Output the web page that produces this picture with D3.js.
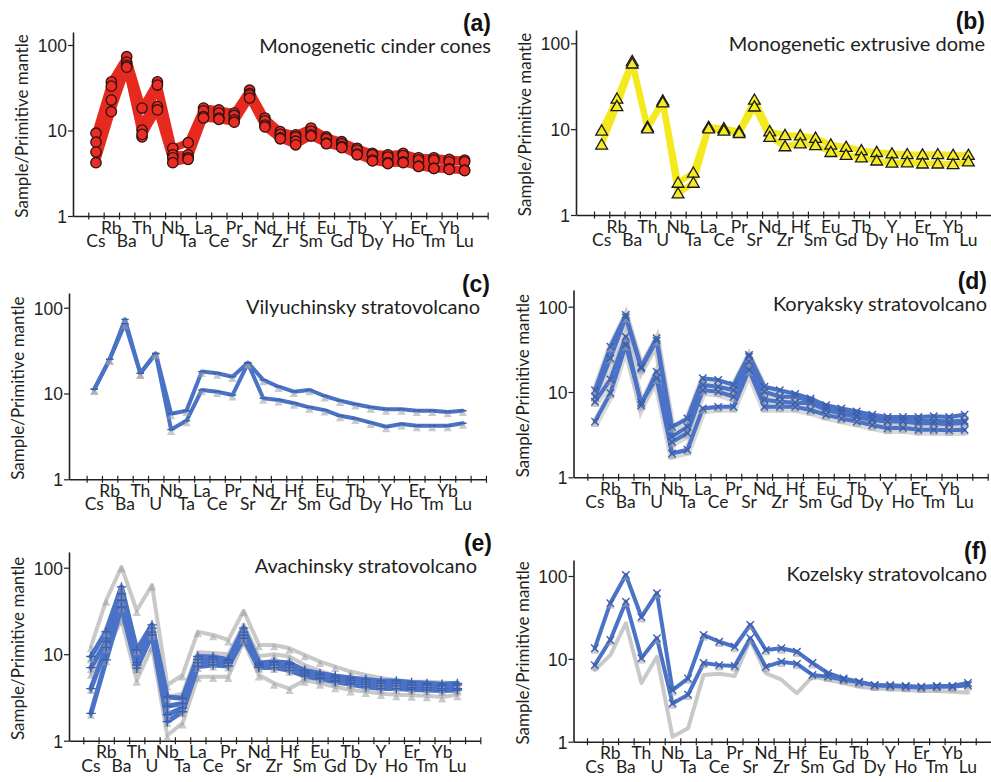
<!DOCTYPE html>
<html>
<head>
<meta charset="utf-8">
<script src="https://cdn.jsdelivr.net/npm/d3@7"></script>
<style>
  body { margin: 0; background: #fff; }
  svg { display: block; font-family: Lato, "Open Sans", sans-serif; }
  .el, .tk text { fill: #231f20; }
</style>
</head>
<body>
<svg id="chart" width="991" height="782"></svg>
<script>
// element order on the x axis
const ELEMENTS = ["Cs","Rb","Ba","Th","U","Nb","Ta","La","Ce","Pr","Sr","Nd","Zr","Hf",
                  "Sm","Eu","Gd","Tb","Dy","Y","Ho","Er","Tm","Yb","Lu"];
const Y_TICKS = [1, 10, 100];

// (a) monogenetic cinder cones
const cinderCones = [
  [9.3,37,73,18.3,37,6.2,7.2,18.3,17.4,16,29.6,14,9.7,8.9,10.7,8.4,7.4,6.2,5.4,5.2,5.4,4.8,4.8,4.6,4.5],
  [7.3,33,63,10.1,34,5.2,5.2,17,16,15,27,13,9,8.4,9.8,8,7,5.9,5.2,4.9,5.1,4.5,4.5,4.3,4.3],
  [5.6,22.7,58,8.4,19,4.8,4.8,14.5,14,13.3,26,11.6,8.2,7.5,8.9,7.1,6.5,5.3,4.5,4.2,4.3,3.8,3.6,3.55,3.45],
  [4.2,16.6,55,9,17.4,4.2,4.6,14,13.5,12.5,24,11,8,6.8,8.6,7,6.3,5.2,4.4,4.1,4.2,3.8,3.6,3.5,3.4]
];
// (b) monogenetic extrusive dome
const extrusiveDome = [
  [9.6,22.6,62,10.6,21.5,2.37,3.1,10.6,10.2,9.4,22,9.4,8.5,8.45,7.9,6.6,6.2,5.66,5.4,5.2,5.1,5.05,5.1,5.0,5.0],
  [6.6,18.5,58,10.2,20.5,1.78,2.37,10.2,9.6,9.0,18.3,8.1,6.3,6.8,6.5,5.4,5.0,4.67,4.3,4.07,4.1,3.97,3.97,3.9,4.2]
];
// (c) Vilyuchinsky
const vilyuchinsky = [
  [11.2,25,73,17.2,29.4,5.8,6.3,18,17.2,15.7,22.9,14.4,12,10.5,11,9.35,8.25,7.5,6.9,6.55,6.55,6.3,6.3,6.1,6.3],
  [11.2,25,65,17.2,29,3.8,4.8,11,10.5,9.6,22.5,8.8,8.4,7.7,6.9,6.4,5.5,5.1,4.57,4.1,4.4,4.2,4.2,4.2,4.5]
];
// (d) Koryaksky
const koryaksky = [
  [10.5,34,80,19.8,42.6,3.9,4.9,14.5,13.8,12.1,27.2,11.5,10.5,9.5,8.4,7.0,6.4,5.9,5.4,5.1,5.1,5.1,5.2,5.1,5.4],
  [8.8,24.8,75,19,40,3.0,3.9,12.1,11.5,10.5,26,10.1,8.8,8.8,7.9,6.6,5.9,5.4,5.0,4.6,4.7,4.6,4.6,4.5,4.6],
  [7.7,14,44.5,7.0,17.3,2.6,3.3,10.5,10.1,8.8,22.6,8.1,7.7,7.5,7.4,6.15,5.6,5.1,4.7,4.5,4.5,4.3,4.3,4.2,4.4],
  [4.5,9.7,35.5,7.5,14.5,1.9,2.1,6.4,6.7,6.7,18.1,6.7,6.7,6.7,6.15,5.4,4.9,4.5,4.1,3.75,3.8,3.6,3.6,3.55,3.6]
];
// (e) Avachinsky
const avachinskyGrey = [
  [12.2,42,102,32,63,4.4,5.75,18.2,16.7,14.6,31.8,12.8,12.8,11.7,9.8,8.2,7.2,6.3,5.75,5.3,5.0,4.8,4.8,4.7,4.6],
  [9,20,60,7,22,3.2,3.5,10.5,10.3,10,22,9.5,10,9.4,7.5,6.4,5.6,5.2,4.9,4.6,4.6,4.4,4.3,4.2,4.3],
  [6.0,10.7,25,5.0,12.2,1.15,1.6,5.5,5.5,5.5,14,5.75,4.6,4.0,5.0,4.6,4.2,3.85,3.7,3.5,3.4,3.35,3.3,3.2,3.4]
];
const avachinskyBlue = [
  [9.4,18.2,60,11.2,21.8,3.2,3.1,9.4,9.3,8.7,20,7.9,8.2,7.9,6.5,6.0,5.6,5.3,5.1,4.9,4.9,4.7,4.6,4.5,4.6],
  [7,14,50,8,20,2.5,2.7,8.7,8.7,8.4,18,7.6,8.0,7.5,6.2,5.7,5.3,5.0,4.8,4.6,4.6,4.4,4.4,4.3,4.4],
  [4,12,42,7.5,18,2.0,2.4,8.0,8.1,7.9,16.5,7.3,7.5,7.0,5.9,5.4,5.0,4.7,4.5,4.3,4.3,4.1,4.1,4.0,4.0],
  [2.07,8.6,35,6.9,16.7,1.66,2.16,7.2,7.5,7.3,15.3,7,7,6.5,5.6,5.2,4.8,4.5,4.2,4.0,4.0,3.9,3.85,3.8,3.85]
];
// (f) Kozelsky
const kozelskyGrey = [
  [7.3,11.1,26.9,5.1,10.6,1.15,1.45,6.4,6.6,6.2,16.9,6.7,5.6,3.85,6.1,5.6,5.1,4.6,4.4,4.3,4.2,4.1,4.1,4.0,3.9]
];
const kozelskyBlue = [
  [13.4,47,103,32,62,4.2,5.8,19.4,16.1,14,25.7,12.8,13.4,12.2,8.9,6.7,5.8,5.3,4.8,4.8,4.7,4.6,4.7,4.7,5.1],
  [8.4,16.9,49,10.2,17.7,2.9,3.7,8.9,8.4,8.2,17.7,8.0,9.25,8.7,6.4,6.1,5.6,5.2,4.8,4.7,4.6,4.5,4.6,4.6,4.8]
];

const RED = "#e62a1f", YELLOW = "#f3e91d", BLUE = "#4a72c6", GREY = "#c9c9c9";

const panels = [
  { letter: "(a)", title: "Monogenetic cinder cones", right: 491,
    axisX: 73, firstTick: 88.3, w: 15.36, yTop: 32, y1: 216, y100: 45,
    groups: [{ data: cinderCones, color: RED, width: 7.5, marker: "circle" }] },
  { letter: "(b)", title: "Monogenetic extrusive dome", right: 985,
    axisX: 576, firstTick: 594, w: 15.28, yTop: 30, y1: 215, y100: 43.3,
    groups: [{ data: extrusiveDome, color: YELLOW, width: 6, marker: "triangle" }] },
  { letter: "(c)", title: "Vilyuchinsky stratovolcano", right: 490, titleRight: 480,
    axisX: 69, firstTick: 86.6, w: 15.36, yTop: 293, y1: 479.3, y100: 307.7,
    groups: [{ data: vilyuchinsky, color: BLUE, width: 4, marker: "dash" }] },
  { letter: "(d)", title: "Koryaksky stratovolcano", right: 987,
    axisX: 573.5, firstTick: 587.3, w: 15.4, yTop: 290, y1: 477.3, y100: 306.7,
    groups: [{ data: koryaksky, color: BLUE, width: 4, marker: "x", halo: true }] },
  { letter: "(e)", title: "Avachinsky stratovolcano", right: 492, titleRight: 477,
    axisX: 69, firstTick: 83.3, w: 15.27, yTop: 552, y1: 740.7, y100: 567.7,
    groups: [{ data: avachinskyGrey, color: GREY, width: 4, marker: "shadow" },
             { data: avachinskyBlue, color: BLUE, width: 5, marker: "plus" }] },
  { letter: "(f)", title: "Kozelsky stratovolcano", right: 987,
    axisX: 573.5, firstTick: 587, w: 15.55, yTop: 560, y1: 741.7, y100: 576,
    groups: [{ data: kozelskyGrey, color: GREY, width: 4, marker: "none" },
             { data: kozelskyBlue, color: BLUE, width: 4, marker: "x" }] }
];

const svg = d3.select("#chart");

// little custom symbols
const symX = { draw(ctx, size) { const r = Math.sqrt(size) / 2;
  ctx.moveTo(-r, -r); ctx.lineTo(r, r); ctx.moveTo(r, -r); ctx.lineTo(-r, r); } };
const symPlus = { draw(ctx, size) { const r = Math.sqrt(size) / 2;
  ctx.moveTo(0, -r); ctx.lineTo(0, r); ctx.moveTo(-r, 0); ctx.lineTo(r, 0); } };
const symDash = { draw(ctx, size) { const r = Math.sqrt(size) / 2;
  ctx.moveTo(-r, 0); ctx.lineTo(r, 0); } };

function drawPanel(p) {
  const g = svg.append("g");
  const startVal = -0.5 - (p.firstTick - p.axisX) / p.w;
  const x = d3.scaleLinear().domain([startVal, 25.5]).range([p.axisX, p.firstTick + 26 * p.w]);
  const decade = (p.y1 - p.y100) / 2;
  const y = d3.scaleLog().domain([1, Math.pow(10, (p.y1 - p.yTop) / decade)]).range([p.y1, p.yTop]);

  // x axis with crossing ticks
  const xa = g.append("g").attr("class", "tk")
    .attr("transform", "translate(0," + p.y1 + ")")
    .call(d3.axisBottom(x).tickValues(d3.range(-0.5, 26, 1)).tickFormat("").tickSizeOuter(0).tickSizeInner(3));
  xa.selectAll(".tick line").attr("y1", -3.5).attr("y2", 3.5).attr("stroke", "#231f20").attr("stroke-width", 1.2);
  xa.select(".domain").attr("stroke", "#231f20").attr("stroke-width", 1.6);

  g.selectAll("text.el").data(ELEMENTS).join("text")
    .attr("class", "el")
    .attr("x", (d, i) => x(i))
    .attr("y", (d, i) => p.y1 + (i % 2 ? 17.5 : 31))
    .attr("text-anchor", "middle")
    .attr("font-size", 17.5)
    .text(d => d);

  // y axis
  const ya = g.append("g").attr("class", "tk")
    .attr("transform", "translate(" + p.axisX + ",0)")
    .call(d3.axisLeft(y).tickValues(Y_TICKS).tickFormat(d3.format("d")).tickSizeInner(5).tickSizeOuter(0).tickPadding(1));
  ya.selectAll("text").attr("font-size", 17.5).attr("font-family", null).attr("dy", "0.36em");
  ya.selectAll(".tick line").attr("stroke", "#231f20").attr("stroke-width", 1.2);
  ya.select(".domain").attr("stroke", "#231f20").attr("stroke-width", 1.6);

  g.append("text")
    .attr("transform", "translate(" + (p.axisX - 45) + "," + ((p.yTop + p.y1) / 2 + 2) + ") rotate(-90)")
    .attr("text-anchor", "middle")
    .attr("font-size", 17)
    .attr("fill", "#231f20")
    .text("Sample/Primitive mantle");

  // letter + title
  g.append("text")
    .attr("x", p.right).attr("y", p.yTop - 1)
    .attr("text-anchor", "end")
    .attr("font-family", "'Liberation Sans', Arial, sans-serif")
    .attr("font-weight", "bold").attr("font-size", 23)
    .attr("fill", "#111")
    .text(p.letter);
  g.append("text")
    .attr("x", p.titleRight || p.right).attr("y", p.yTop + 21)
    .attr("text-anchor", "end")
    .attr("font-size", 20)
    .attr("fill", "#231f20")
    .text(p.title);

  const line = d3.line().x((d, i) => x(i)).y(d => y(d));

  p.groups.forEach(grp => {
    const gg = g.append("g");
    if (grp.halo) {
      gg.selectAll("path.halo").data(grp.data).join("path")
        .attr("d", line).attr("fill", "none")
        .attr("stroke", "#bfbfbf").attr("stroke-opacity", 0.6)
        .attr("stroke-width", grp.width + 4).attr("transform", "translate(0,2)");
    }
    gg.selectAll("path.ln").data(grp.data).join("path")
      .attr("d", line).attr("fill", "none")
      .attr("stroke", grp.color).attr("stroke-width", grp.width)
      .attr("stroke-linejoin", "round").attr("stroke-linecap", "round");

    const pts = grp.data.flatMap(s => s.map((v, i) => ({ i, v })));
    const mg = gg.append("g");
    if (grp.marker === "circle") {
      mg.selectAll("circle").data(pts).join("circle")
        .attr("cx", d => x(d.i)).attr("cy", d => y(d.v)).attr("r", 5.2)
        .attr("fill", "#ec2b22").attr("stroke", "#2a1414").attr("stroke-width", 1.3);
    } else if (grp.marker === "triangle") {
      mg.selectAll("path").data(pts).join("path")
        .attr("d", d3.symbol(d3.symbolTriangle, 60))
        .attr("transform", d => "translate(" + x(d.i) + "," + (y(d.v) + 1) + ")")
        .attr("fill", "#f5ed22").attr("stroke", "#1a1a1a").attr("stroke-width", 1.3);
    } else if (grp.marker !== "none") {
      // grey under-markers like the reference's shadows
      mg.selectAll("path.sh").data(pts).join("path")
        .attr("d", d3.symbol(d3.symbolTriangle, 30))
        .attr("transform", d => "translate(" + x(d.i) + "," + (y(d.v) + 3) + ")")
        .attr("fill", "#9b9ea6").attr("fill-opacity", 0.55);
      if (grp.marker !== "shadow") {
        const sym = grp.marker === "x" ? symX : grp.marker === "plus" ? symPlus : symDash;
        mg.selectAll("path.mk").data(pts).join("path")
          .attr("d", d3.symbol(sym, grp.marker === "plus" ? 90 : 55))
          .attr("transform", d => "translate(" + x(d.i) + "," + y(d.v) + ")")
          .attr("fill", "none").attr("stroke", "#3b5fae").attr("stroke-width", 1.4);
      }
    }
  });
}

panels.forEach(drawPanel);
</script>
</body>
</html>
